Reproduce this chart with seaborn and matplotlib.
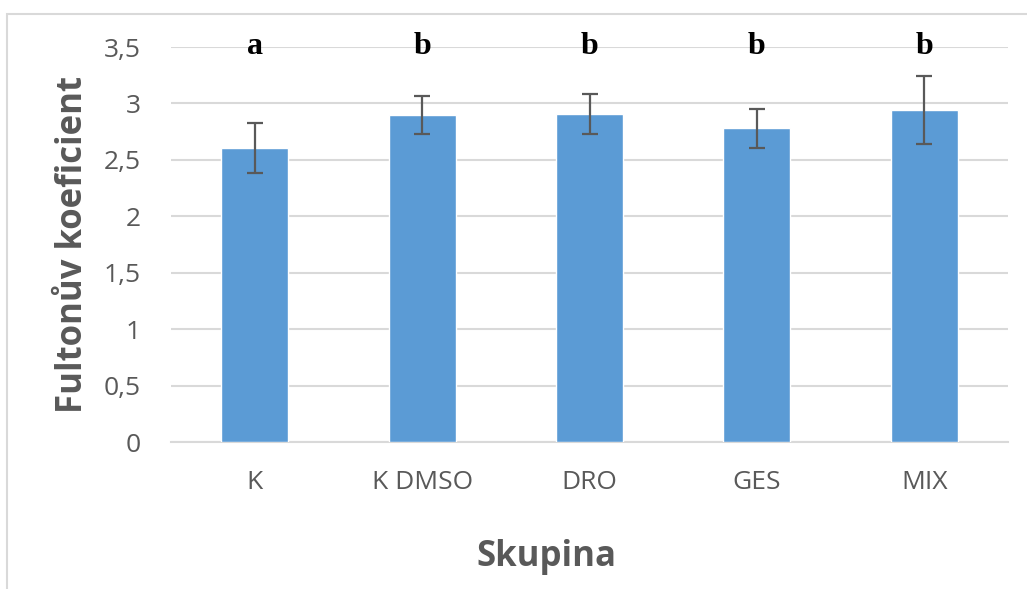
import numpy as np
import pandas as pd
import matplotlib
matplotlib.use("Agg")
import matplotlib.pyplot as plt
import seaborn as sns
from matplotlib.patches import Rectangle

# data
skupiny = ["K", "K DMSO", "DRO", "GES", "MIX"]
prumer = [2.605, 2.897, 2.906, 2.78, 2.939]
sd = [0.22, 0.17, 0.18, 0.173, 0.30]
pismena = ["a", "b", "b", "b", "b"]

df = pd.DataFrame({"Skupina": skupiny, "Fulton": prumer})

sns.set_style("white")
plt.rcParams["font.family"] = ["Open Sans", "DejaVu Sans"]

fig = plt.figure(figsize=(10.27, 5.89), dpi=100)
ax = fig.add_axes([171 / 1027, 1 - 442 / 589, (1008 - 171) / 1027, (442 - 47) / 589])

sns.barplot(data=df, x="Skupina", y="Fulton", color="#5b9bd5", width=0.4,
            saturation=1, ax=ax, zorder=3)
ax.errorbar(np.arange(len(skupiny)), prumer, yerr=sd, fmt="none",
            ecolor="#595959", elinewidth=1.6, capsize=6, capthick=1.6, zorder=4)

# significance letters
for i, p in enumerate(pismena):
    ax.text(i, 3.5, p, ha="center", va="center", fontsize=23, fontweight="bold",
            family="Liberation Serif", color="black", clip_on=False)

ax.set_ylim(0, 3.5)
ax.set_xlim(-0.5, 4.5)
ax.set_yticks(np.arange(0, 3.51, 0.5))
ax.set_yticklabels(["0", "0,5", "1", "1,5", "2", "2,5", "3", "3,5"])
ax.yaxis.grid(True, color="#d9d9d9", lw=1.5, zorder=0)
ax.set_axisbelow(True)
for s in ["top", "right", "left"]:
    ax.spines[s].set_visible(False)
ax.spines["bottom"].set_color("#d9d9d9")
ax.spines["bottom"].set_linewidth(1.5)
ax.tick_params(axis="both", length=0, labelsize=19, colors="#595959")
ax.tick_params(axis="y", pad=22)
ax.tick_params(axis="x", pad=20)

ax.set_ylabel("Fultonův koeficient", fontsize=25, fontweight="bold", color="#595959")
ax.yaxis.set_label_coords(-0.096, 0.5)
ax.set_xlabel("Skupina", fontsize=25, fontweight="bold", color="#595959")
ax.xaxis.set_label_coords(0.448, -0.245)

# chart frame (cut at right/bottom like the reference)
fig.patches.append(Rectangle((7 / 1027, -0.05), 1.1, 1 - 14 / 589 + 0.05,
                             transform=fig.transFigure, fill=False,
                             edgecolor="#d9d9d9", lw=1.5))

fig.savefig("out.png", dpi=100)
